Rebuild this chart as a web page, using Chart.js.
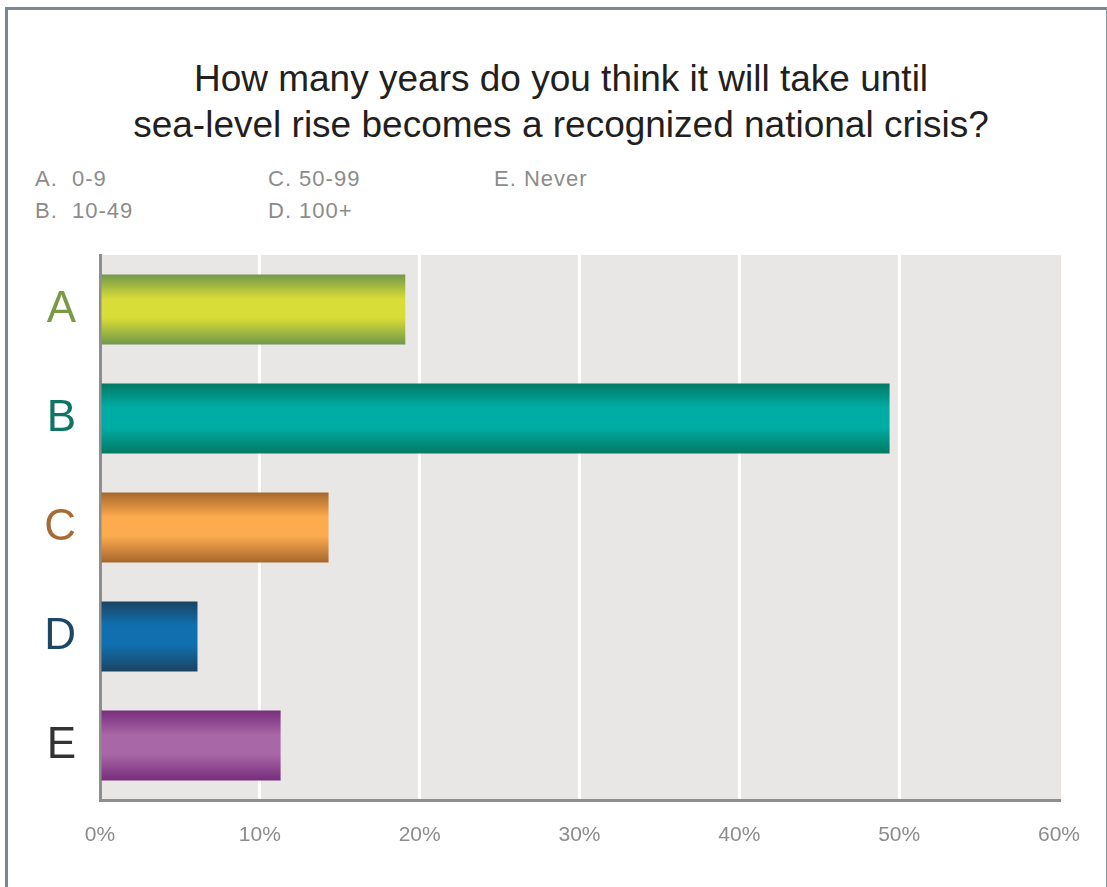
<!DOCTYPE html>
<html>
<head>
<meta charset="utf-8">
<script src="https://cdn.jsdelivr.net/npm/chart.js@4.4.1/dist/chart.umd.min.js"></script>
<style>
  html, body { margin:0; padding:0; background:#fff; }
  #wrap { position:relative; width:1107px; height:887px; overflow:hidden; font-family:"Liberation Sans", Arial, sans-serif; }
  #frame { position:absolute; left:5px; top:7px; width:1098px; height:900px; border-left:3px solid #7b8792; border-top:3px solid #7b8792; border-right:1px solid #8a949c; }
  #title { position:absolute; left:0; width:1122px; top:56px; text-align:center; font-size:37px; line-height:46px; color:#231f20; }
  .key { position:absolute; font-size:22px; line-height:26px; letter-spacing:1px; color:#8c8c8c; white-space:pre; }
  canvas { position:absolute; left:0; top:0; }
</style>
</head>
<body>
<div id="wrap">
  <div id="frame"></div>
  <div id="title">How many years do you think it will take until<br>sea-level rise becomes a recognized national crisis?</div>
  <div class="key" style="left:35px; top:166px;">A.  0-9</div>
  <div class="key" style="left:35px; top:198px;">B.  10-49</div>
  <div class="key" style="left:268px; top:166px;">C. 50-99</div>
  <div class="key" style="left:268px; top:198px;">D. 100+</div>
  <div class="key" style="left:494px; top:166px;">E. Never</div>
  <canvas id="c" width="1107" height="887"></canvas>
</div>
<script>
const categories = ["A", "B", "C", "D", "E"];
const values = [19.1, 49.4, 14.3, 6.1, 11.3];
const xTicks = [0, 10, 20, 30, 40, 50, 60];
const labelColors = ["#7a9a45", "#0f7562", "#a86a35", "#1d4766", "#333333"];
const edgeColors = ["#71984a", "#007a64", "#a6662c", "#1b4462", "#772d7c"];
const centerColors = ["#d9dd37", "#00ada5", "#fdab4f", "#1070af", "#a867a6"];

const BAR_FRACTION = 0.64;

const bgPlugin = {
  id: 'plotBg',
  beforeDraw(chart) {
    const {ctx, chartArea} = chart;
    ctx.save();
    ctx.fillStyle = '#e8e7e5';
    ctx.fillRect(chartArea.left, chartArea.top, chartArea.right - chartArea.left + 2, chartArea.bottom - chartArea.top);
    ctx.restore();
  }
};

new Chart(document.getElementById('c'), {
  type: 'bar',
  data: {
    labels: categories,
    datasets: [{
      data: values,
      backgroundColor: (c) => {
        const chart = c.chart;
        const area = chart.chartArea;
        const i = c.dataIndex;
        if (!area || i === undefined) return centerColors[i || 0];
        const yc = chart.scales.y.getPixelForValue(i);
        const h = (area.bottom - area.top) / categories.length * BAR_FRACTION;
        const g = chart.ctx.createLinearGradient(0, yc - h / 2, 0, yc + h / 2);
        g.addColorStop(0, edgeColors[i]);
        g.addColorStop(0.35, centerColors[i]);
        g.addColorStop(0.62, centerColors[i]);
        g.addColorStop(1, edgeColors[i]);
        return g;
      },
      borderWidth: 0,
      barPercentage: 0.8,
      categoryPercentage: 0.8
    }]
  },
  options: {
    indexAxis: 'y',
    responsive: false,
    animation: false,
    layout: { padding: { left: 0, right: 48, top: 255, bottom: 0 } },
    plugins: { legend: { display: false }, tooltip: { enabled: false } },
    scales: {
      x: {
        min: 0, max: 60,
        afterBuildTicks: (s) => { s.ticks = xTicks.map(v => ({ value: v })); },
        afterFit: (s) => { s.height = 87; },
        grid: {
          color: (c) => (c.tick && (c.tick.value === 0 || c.tick.value === 60)) ? 'rgba(0,0,0,0)' : '#ffffff',
          lineWidth: 3,
          drawTicks: false
        },
        border: { display: true, color: '#8e8e8e', width: 3 },
        ticks: {
          padding: 23,
          color: '#8c8c8c',
          font: { family: "'Liberation Sans', Arial, sans-serif", size: 21 },
          callback: (v) => v + '%'
        }
      },
      y: {
        afterFit: (s) => { s.width = 100; },
        grid: { display: false, drawTicks: false },
        border: { display: true, color: '#8e8e8e', width: 3 },
        ticks: {
          padding: 24,
          color: (c) => labelColors[c.index],
          font: { family: "'Liberation Sans', Arial, sans-serif", size: 44 }
        }
      }
    }
  },
  plugins: [bgPlugin]
});
</script>
</body>
</html>
